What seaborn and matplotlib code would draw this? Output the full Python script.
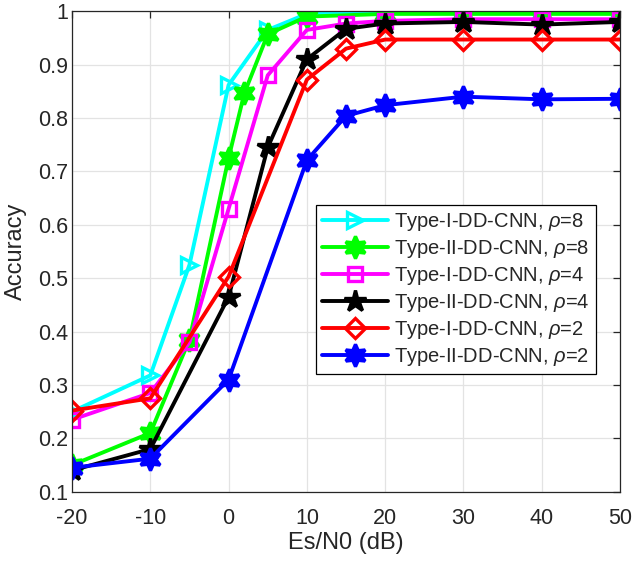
import pandas as pd
import matplotlib
matplotlib.use("Agg")
import matplotlib.pyplot as plt
import seaborn as sns

# Datos
x_t1_r8 = [-20, -10, -5, 0, 5, 10, 20, 30, 40, 50]
y_t1_r8 = [0.25, 0.318, 0.525, 0.862, 0.965, 0.995, 0.998, 0.998, 0.998, 0.998]

x_t2_r8 = [-20, -10, -5, 0, 2, 5, 10, 20, 30, 40, 50]
y_t2_r8 = [0.15, 0.21, 0.385, 0.725, 0.846, 0.957, 0.99, 0.995, 0.995, 0.995, 0.995]

x_t1_r4 = [-20, -10, -5, 0, 5, 10, 15, 20, 30, 40, 50]
y_t1_r4 = [0.235, 0.285, 0.38, 0.63, 0.88, 0.965, 0.977, 0.982, 0.985, 0.985, 0.985]

x_t2_r4 = [-20, -10, 0, 5, 10, 15, 20, 30, 40, 50]
y_t2_r4 = [0.14, 0.18, 0.465, 0.745, 0.91, 0.967, 0.977, 0.98, 0.975, 0.98]

x_t1_r2 = [-20, -10, 0, 10, 15, 20, 30, 40, 50]
y_t1_r2 = [0.252, 0.275, 0.503, 0.872, 0.93, 0.947, 0.947, 0.947, 0.947]

x_t2_r2 = [-20, -10, 0, 10, 15, 20, 30, 40, 50]
y_t2_r2 = [0.145, 0.162, 0.31, 0.721, 0.804, 0.824, 0.84, 0.835, 0.836]

etiquetas = [
    r"Type-I-DD-CNN, $\rho$=8",
    r"Type-II-DD-CNN, $\rho$=8",
    r"Type-I-DD-CNN, $\rho$=4",
    r"Type-II-DD-CNN, $\rho$=4",
    r"Type-I-DD-CNN, $\rho$=2",
    r"Type-II-DD-CNN, $\rho$=2",
]
xs = [x_t1_r8, x_t2_r8, x_t1_r4, x_t2_r4, x_t1_r2, x_t2_r2]
ys = [y_t1_r8, y_t2_r8, y_t1_r4, y_t2_r4, y_t1_r2, y_t2_r2]

colores = ["#00ffff", "#00ff00", "#ff00ff", "#000000", "#ff0000", "#0000ff"]
marcadores = [">", (6, 1, 0), "s", "*", "D", (6, 1, 0)]
tamanos = [12, 16, 10, 16, 10, 16]
relleno = [False, True, False, True, False, True]

# Convertir a DataFrame largo
filas = []
for lab, xx, yy in zip(etiquetas, xs, ys):
    for a, b in zip(xx, yy):
        filas.append({"serie": lab, "snr": a, "acc": b})
df = pd.DataFrame(filas)

sns.set_style("whitegrid")
plt.rcParams["font.family"] = ["Liberation Sans", "DejaVu Sans"]
plt.rcParams["mathtext.fontset"] = "custom"
plt.rcParams["mathtext.it"] = "Liberation Sans:italic"
plt.rcParams["mathtext.rm"] = "Liberation Sans"
plt.rcParams["axes.unicode_minus"] = False

fig = plt.figure(figsize=(6.32, 5.62), dpi=100)
ax = fig.add_axes([0.114, 0.125, 0.867, 0.855])

for lab, col, mk, ms, fill in zip(etiquetas, colores, marcadores, tamanos, relleno):
    d = df[df["serie"] == lab]
    sns.lineplot(data=d, x="snr", y="acc", ax=ax, color=col, linewidth=2.8,
                 marker=mk, markersize=ms, markeredgecolor=col, markeredgewidth=2.4,
                 markerfacecolor=col if fill else "none", label=lab)

ax.set_xlim(-20, 50)
ax.set_ylim(0.1, 1.0)
ax.set_xticks([-20, -10, 0, 10, 20, 30, 40, 50])
ax.set_yticks([0.1, 0.2, 0.3, 0.4, 0.5, 0.6, 0.7, 0.8, 0.9, 1.0])
ax.set_yticklabels(["0.1", "0.2", "0.3", "0.4", "0.5", "0.6", "0.7", "0.8", "0.9", "1"])
ax.set_xlabel("Es/N0 (dB)", fontsize=17, color="#262626", labelpad=2)
ax.set_ylabel("Accuracy", fontsize=17, color="#262626", labelpad=8)
ax.grid(True, color="#e3e3e3", linewidth=0.9)
for s in ax.spines.values():
    s.set_color("#262626")
    s.set_linewidth(0.9)
ax.tick_params(direction="in", length=5, width=0.9, top=True, right=True,
               labelsize=15.5, colors="#262626", labelcolor="#262626")
ax.tick_params(axis="x", pad=12)
ax.tick_params(axis="y", pad=3)

leg = ax.legend(loc="upper left", bbox_to_anchor=(0.445, 0.597), borderaxespad=0,
                fontsize=14.5, handlelength=3.3, frameon=True, fancybox=False,
                edgecolor="#000000", framealpha=1, labelspacing=0.25, borderpad=0.3,
                handletextpad=0.3)
leg.get_frame().set_linewidth(0.9)

plt.savefig("out.png", dpi=100)
